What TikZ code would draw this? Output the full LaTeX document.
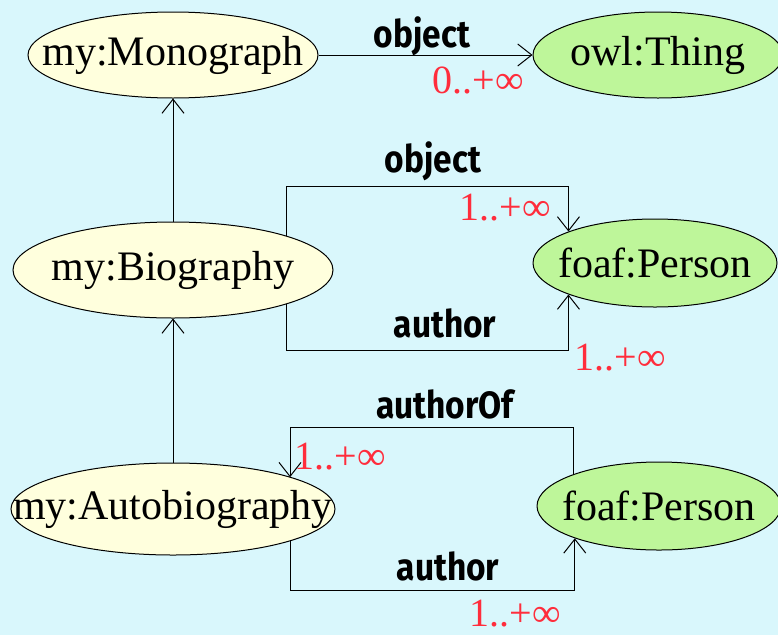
\documentclass[tikz,border=0pt]{standalone}
\usepackage{fontspec}
\setmainfont{Liberation Serif}
\newfontfamily\rolefont[FakeStretch=0.88]{Fira Sans}
\usetikzlibrary{shapes.geometric,arrows.meta}
\definecolor{bgcyan}{RGB}{217,247,252}
\definecolor{clsyellow}{RGB}{255,255,221}
\definecolor{extgreen}{RGB}{190,246,154}
\definecolor{cardred}{RGB}{255,45,60}
\newcommand{\nodetext}[1]{\makebox[0pt]{#1}}
\tikzset{
  cls/.style={ellipse,draw,line width=1pt,inner sep=0pt,fill=clsyellow,
    font=\fontsize{42}{48}\selectfont},
  ext/.style={cls,fill=extgreen},
  role/.style={inner sep=0pt,font=\rolefont\bfseries\fontsize{38}{42}\selectfont},
  card/.style={inner sep=0pt,text=cardred,font=\fontsize{40}{44}\selectfont},
  link/.style={line width=1pt,-{Straight Barb[length=14pt,width=22pt]}}
}
\begin{document}
\begin{tikzpicture}[x=1pt,y=-1pt]
  \fill[bgcyan] (0,0) rectangle (778,635);
  \useasboundingbox (0,0) rectangle (778,635);
  % classes
  \node[cls,minimum width=290,minimum height=86] (mono)  at (173,55)  {\nodetext{my:Monograph}};
  \node[ext,minimum width=250,minimum height=86] (thing) at (658,55)  {\nodetext{owl:Thing}};
  \node[cls,minimum width=320,minimum height=96] (bio)   at (173,270) {\nodetext{my:Biography}};
  \node[ext,minimum width=244,minimum height=88] (per1)  at (655,263) {\nodetext{foaf:Person}};
  \node[cls,minimum width=324,minimum height=92] (auto)  at (173,509) {\nodetext{my:Autobiography}};
  \node[ext,minimum width=244,minimum height=88] (per2)  at (659,506) {\nodetext{foaf:Person}};
  % corners of the property paths
  \coordinate (bioTop) at (286,186);
  \coordinate (bioBot) at (286,350);
  \coordinate (ofTL)   at (290,427);
  \coordinate (ofTR)   at (573,427);
  \coordinate (autBot) at (290,590);
  % subclass links
  \draw[link] (bio.north) -- (mono.south);
  \draw[link] (auto.north) -- (bio.south);
  % properties
  \draw[link] (mono) -- (thing);
  \node[role] (objA) at (422,36) {object};
  \node[card] (cardA) at (478,80) {0..+∞};
  \draw[link] (bioTop |- bio.17) -- (bioTop) -| (per1.160);
  \node[role] (objB) at (433,161) {object};
  \node[card] (cardB) at (505,208) {1..+∞};
  \draw[link] (bioBot |- bio.-17) -- (bioBot) -| (per1.200);
  \node[role] (authA) at (445,323) {author};
  \node[card] (cardC) at (620,358) {1..+∞};
  \draw[link] (ofTR |- per2.159) -- (ofTR) -- (ofTL) -- (ofTL |- auto.15);
  \node[role] (authOf) at (445,404) {authorOf};
  \node[card] (cardD) at (340,457) {1..+∞};
  \draw[link] (autBot |- auto.-15) -- (autBot) -| (per2.201);
  \node[role] (authB) at (448,566) {author};
  \node[card] (cardE) at (515,614) {1..+∞};
\end{tikzpicture}
\end{document}
